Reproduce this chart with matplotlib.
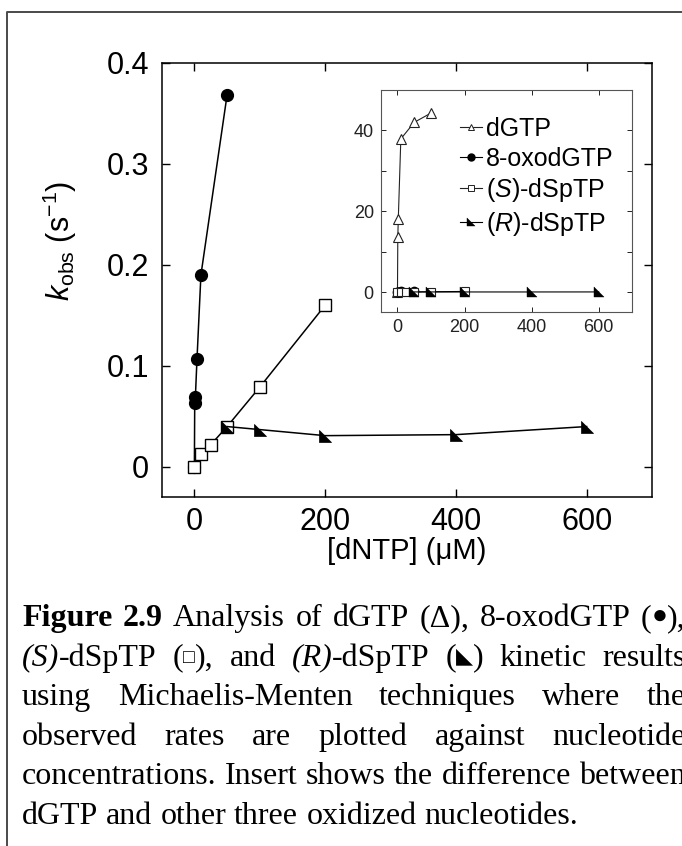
import re
import matplotlib
matplotlib.use('Agg')
import matplotlib.pyplot as plt
from matplotlib.path import Path
from matplotlib.lines import Line2D
from matplotlib.transforms import IdentityTransform

plt.rcParams['font.family'] = ['Liberation Sans', 'DejaVu Sans']
plt.rcParams['mathtext.fontset'] = 'custom'
plt.rcParams['mathtext.rm'] = 'Liberation Sans'
plt.rcParams['mathtext.it'] = 'Liberation Sans:italic'
plt.rcParams['mathtext.bf'] = 'Liberation Sans:bold'

# kobs (s^-1) against nucleotide concentration (uM)
dgtp_conc = [0, 1, 2.5, 10, 50, 100]
dgtp_kobs = [0, 13.7, 18.2, 37.9, 42.0, 44.3]

oxo_conc = [0, 0.5, 1.5, 4, 10, 50]
oxo_kobs = [0, 0.063, 0.069, 0.107, 0.190, 0.368]

s_conc = [0, 10, 25, 50, 100, 200]
s_kobs = [0, 0.013, 0.022, 0.040, 0.079, 0.160]

r_conc = [50, 100, 200, 400, 600]
r_kobs = [0.040, 0.037, 0.031, 0.032, 0.040]

series_names = ['dGTP', '8-oxodGTP', '$\\mathit{(S)}$-dSpTP', '$\\mathit{(R)}$-dSpTP']

x_ticks = [0, 200, 400, 600]
y_ticks = [0, 0.1, 0.2, 0.3, 0.4]
y_tick_labels = ['0', '0.1', '0.2', '0.3', '0.4']
inset_y_ticks = [0, 10, 20, 30, 40]
inset_y_labels = ['0', '', '20', '', '40']

caption = [
    '**Figure** **2.9** Analysis of dGTP (\u0394), 8-oxodGTP (\u25cf),',
    '*(S)*-dSpTP (\u25a1), and *(R)*-dSpTP (\u25e3) kinetic results',
    'using Michaelis-Menten techniques where the',
    'observed rates are plotted against nucleotide',
    'concentrations. Insert shows the difference between',
    'dGTP and other three oxidized nucleotides.',
]
# the marker glyphs sit smaller than the body text
symbol_size = {'\u25cf': 19, '\u25a1': 14, '\u25e3': 16}

# lower-left right triangle used for (R)-dSpTP
tri_ll = Path([(-1, 1), (-1, -1), (1, -1), (-1, 1)],
              [Path.MOVETO, Path.LINETO, Path.LINETO, Path.CLOSEPOLY])

W, H = 682, 846
fig = plt.figure(figsize=(W / 100, H / 100), dpi=100)

# page frame
fig.add_artist(Line2D([7 / W, 7 / W, 1.0], [0, 1 - 12 / H, 1 - 12 / H],
                      transform=fig.transFigure, color='#4a4a4a', lw=1.4))

# main panel
ax = fig.add_axes([161.7 / W, 1 - 497.3 / H, (652 - 161.7) / W, (497.3 - 62.7) / H])
ax.plot(oxo_conc, oxo_kobs, '-', color='black', lw=1.1, marker='o', ms=8.5,
        mfc='black', mec='black', zorder=3)
ax.plot(s_conc, s_kobs, '-', color='black', lw=1.1, marker='s', ms=8.3,
        mfc='white', mec='black', mew=1.0, zorder=4)
ax.plot(r_conc, r_kobs, '-', color='black', lw=1.1, marker=tri_ll, ms=8.5,
        mfc='black', mec='black', mew=0.5, zorder=5)
ax.set_xlim(-50, 700)
ax.set_ylim(-0.03, 0.4)
ax.set_xticks(x_ticks)
ax.set_yticks(y_ticks)
ax.set_yticklabels(y_tick_labels)
ax.tick_params(direction='in', length=6, width=1.0, top=True, right=True,
               labelsize=22, pad=9)
ax.tick_params(axis='x', pad=7)
for sp in ax.spines.values():
    sp.set_linewidth(1.1)
ax.set_xlabel('[dNTP] (\u03bcM)', fontsize=21, labelpad=0)
ax.set_ylabel('$k_{\\mathrm{obs}}$ (s$^{\\mathrm{-1}}$)', fontsize=22)
ax.yaxis.set_label_coords(-0.168, 0.59)

# inset with dGTP on its own scale
axi = fig.add_axes([380.7 / W, 1 - 312.3 / H, (632.3 - 380.7) / W, (312.3 - 90) / H])
axi.plot(dgtp_conc, dgtp_kobs, '-', color='#222222', lw=0.8, marker='^', ms=7,
         mfc='white', mec='#222222', mew=0.8)
axi.plot(oxo_conc, oxo_kobs, '-', color='black', lw=0.8, marker='o',
         ms=6, mfc='black', mec='black')
axi.plot(s_conc, s_kobs, '-', color='black', lw=0.8, marker='s', ms=5.5,
         mfc='white', mec='#222222', mew=0.8)
axi.plot(r_conc, r_kobs, '-', color='black', lw=0.8, marker=tri_ll, ms=6.5,
         mfc='black', mec='black', mew=0.3)
axi.set_xlim(-50, 700)
axi.set_ylim(-5, 50)
axi.set_xticks(x_ticks)
axi.set_yticks(inset_y_ticks)
axi.set_yticklabels(inset_y_labels)
axi.tick_params(direction='in', length=3.5, width=0.7, top=True, right=True,
                labelsize=13, pad=5, colors='#222222')
for sp in axi.spines.values():
    sp.set_linewidth(0.8)
    sp.set_color('#555555')

leg_handles = [
    Line2D([], [], color='#222222', lw=0.8, marker='^', ms=5, mfc='white', mec='#222222', mew=0.7),
    Line2D([], [], color='black', lw=0.8, marker='o', ms=5, mfc='black', mec='black'),
    Line2D([], [], color='#222222', lw=0.8, marker='s', ms=5, mfc='white', mec='#222222', mew=0.7),
    Line2D([], [], color='black', lw=0.8, marker=tri_ll, ms=5.5, mfc='black', mec='black', mew=0.3),
]
axi.legend(leg_handles, series_names, loc='upper left', frameon=False, fontsize=18,
           handlelength=0.9, handletextpad=0.15, labelspacing=0.22, borderpad=0,
           borderaxespad=0, bbox_to_anchor=(460 / W, 1 - 117 / H),
           bbox_transform=fig.transFigure)

# caption, justified like the page text
renderer = fig.canvas.get_renderer()
left, right = 22, 686
base0, step = 626, 39.6
serif = ['Liberation Serif', 'DejaVu Serif']


def runs_of(word):
    parts = re.split(r'(\*\*[^*]+\*\*|\*[^*]+\*|[\u25cf\u25a1\u25e3])', word)
    out = []
    for p in parts:
        if not p:
            continue
        if p.startswith('**'):
            out.append((p[2:-2], 'bold', 'normal', 23))
        elif p.startswith('*'):
            out.append((p[1:-1], 'normal', 'italic', 23))
        elif p in symbol_size:
            out.append((p, 'normal', 'normal', symbol_size[p]))
        else:
            out.append((p, 'normal', 'normal', 23))
    return out


sp_probe = fig.text(0, 0, 'a a', family=serif, fontsize=23)
sp_probe2 = fig.text(0, 0, 'aa', family=serif, fontsize=23)
space_w = (sp_probe.get_window_extent(renderer).width
           - sp_probe2.get_window_extent(renderer).width)
sp_probe.remove()
sp_probe2.remove()

for i, line in enumerate(caption):
    y = H - (base0 + step * i)
    words = []
    for w in line.split(' '):
        objs = []
        for txt, weight, style, size in runs_of(w):
            yy = y + (3 if size < 20 else 0)
            t = fig.text(0, yy, txt, family=serif, fontsize=size, fontweight=weight,
                         fontstyle=style, va='baseline', ha='left',
                         transform=IdentityTransform())
            objs.append((t, t.get_window_extent(renderer).width))
        words.append(objs)
    widths = [sum(wd for _, wd in objs) for objs in words]
    if i < len(caption) - 1:
        gap = (right - left - sum(widths)) / (len(words) - 1)
    else:
        gap = space_w
    x = left
    for objs, ww in zip(words, widths):
        xx = x
        for t, wd in objs:
            t.set_x(xx)
            xx += wd
        x += ww + gap

fig.savefig('out.png', dpi=100)
